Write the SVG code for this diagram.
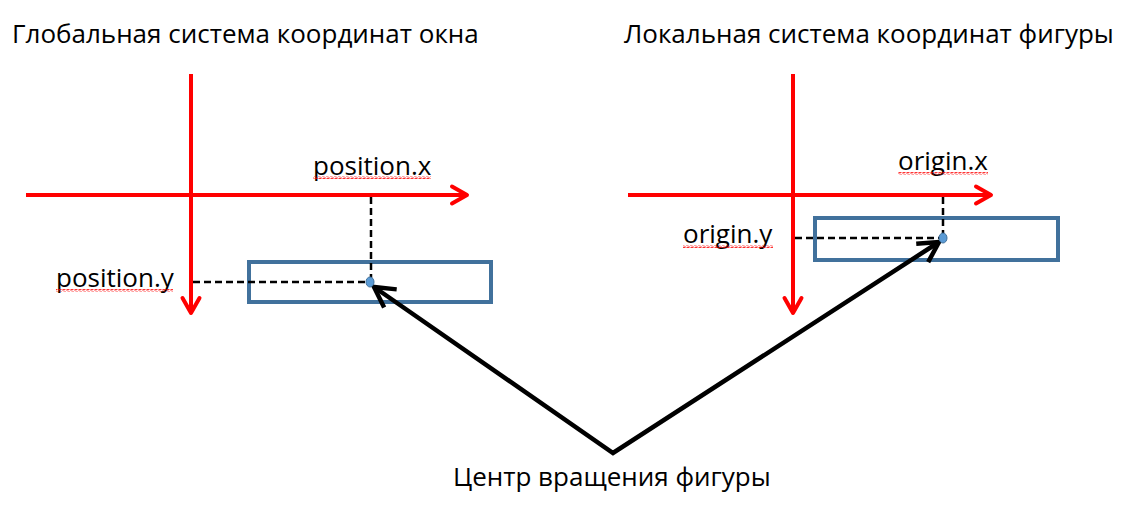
<svg xmlns="http://www.w3.org/2000/svg" width="1133" height="512" viewBox="0 0 1133 512">
<style>
  text { font-family: "Open Sans", "Liberation Sans", sans-serif; fill: #000; font-size: 26px; }
  .axis { stroke: #ff0000; stroke-width: 4; fill: none; marker-end: url(#redArrow); }
  .box { fill: none; stroke: #41719c; stroke-width: 4; }
  .dash { stroke: #000; stroke-width: 2.5; stroke-dasharray: 7 4; fill: none; }
  .dot { fill: #5b9bd5; stroke: #41719c; stroke-width: 1; }
  .pointer { stroke: #000; stroke-width: 4.5; fill: none; stroke-linejoin: miter; }
  .squig { fill: url(#squiggle); }
</style>
<defs>
  <marker id="redArrow" markerUnits="userSpaceOnUse" markerWidth="30" markerHeight="30" viewBox="-20 -15 25 30" refX="0" refY="0" orient="auto">
    <path d="M-15,-8.5 L0,0 L-15,8.5" fill="none" stroke="#ff0000" stroke-width="4" stroke-linecap="round" stroke-linejoin="round"/>
  </marker>
  <marker id="blackArrow" markerUnits="userSpaceOnUse" markerWidth="40" markerHeight="40" viewBox="-25 -20 30 40" refX="0" refY="0" orient="auto">
    <path d="M-20,-11 L0,0 L-20,11" fill="none" stroke="#000" stroke-width="4.5" stroke-linecap="butt" stroke-linejoin="miter"/>
  </marker>
  <pattern id="squiggle" patternUnits="userSpaceOnUse" width="4" height="3">
    <path d="M0,2.5 L1,0.5 L3,2.5 L4,0.5" fill="none" stroke="#ff0000" stroke-width="0.8"/>
  </pattern>
</defs>

<g id="title-global"><text x="12" y="43">Глобальная система координат окна</text></g>
<g id="title-local"><text x="624" y="43">Локальная система координат фигуры</text></g>

<g id="global-axes">
  <line class="axis" x1="191" y1="74" x2="191" y2="313"/>
  <line class="axis" x1="26" y1="195" x2="467" y2="195"/>
</g>
<g id="local-axes">
  <line class="axis" x1="793" y1="74" x2="793" y2="313"/>
  <line class="axis" x1="628" y1="195" x2="991" y2="195"/>
</g>

<g id="shape-global">
  <rect class="box" x="249" y="262" width="242" height="40"/>
</g>
<g id="shape-local">
  <rect class="box" x="815" y="218" width="243" height="42"/>
</g>

<g id="guides">
  <path class="dash" d="M371,197 V282"/>
  <path class="dash" d="M193,282 H370"/>
  <path class="dash" d="M943,197 V238"/>
  <path class="dash" d="M795,238 H942"/>
</g>

<g id="label-position-x">
  <text x="313" y="175">position.x</text>
  <rect class="squig" x="313" y="176" width="118" height="3"/>
</g>
<g id="label-position-y">
  <text x="56" y="287">position.y</text>
  <rect class="squig" x="56" y="289" width="117" height="3"/>
</g>
<g id="label-origin-x">
  <text x="898" y="170">origin.x</text>
  <rect class="squig" x="898" y="172" width="90" height="3"/>
</g>
<g id="label-origin-y">
  <text x="683" y="243">origin.y</text>
  <rect class="squig" x="683" y="245" width="90" height="3"/>
</g>

<g id="connectors">
  <polyline class="pointer" points="374,287 613,453 939,242"/>
  <line x1="613" y1="453" x2="374" y2="287" stroke="none" marker-end="url(#blackArrow)"/>
  <line x1="613" y1="453" x2="939" y2="242" stroke="none" marker-end="url(#blackArrow)"/>
</g>

<g id="center-points">
  <ellipse class="dot" cx="370" cy="282" rx="4" ry="5"/>
  <ellipse class="dot" cx="943" cy="238" rx="4" ry="5"/>
</g>

<g id="caption"><text x="453" y="486">Центр вращения фигуры</text></g>
</svg>
